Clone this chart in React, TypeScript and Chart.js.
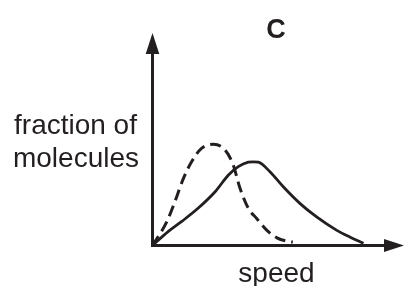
import React, { useEffect, useRef } from "react";
import { Chart, registerables } from "chart.js";

Chart.register(...registerables);

// Speed (x) in arbitrary units, fraction of molecules (y) in arbitrary units
const dashedX = [0, 5.7, 8.9, 12.3, 15.6, 19.6, 24.2, 28.8, 32.1, 34.8, 38.1, 41.5, 45.5, 49.5, 53.5, 55.8];
const dashedY = [0, 11.2, 20.6, 31.6, 39.5, 45.8, 47.6, 45.0, 37.9, 26.9, 17.5, 12.6, 7.1, 3.6, 2.0, 1.6];
const solidX = [0, 6.2, 11.5, 18.1, 24.9, 30.2, 34.1, 38.1, 40.0, 42.1, 46.8, 52.1, 58.7, 65.4, 73.3, 78.6, 83.9];
const solidY = [0, 6.5, 11.2, 17.5, 25.3, 33.2, 37.1, 39.2, 39.4, 39.2, 34.6, 27.5, 19.7, 13.3, 7.1, 3.9, 1.1];

const titleText = "C";
const xLabel = "speed";
const yLabelLines = ["fraction of", "molecules"];

const INK = "#231f20";
const FONT = "'Liberation Sans', Arial, sans-serif";

const toPoints = (xs: number[], ys: number[]) => xs.map((x, i) => ({ x, y: ys[i] }));

const axesPlugin = {
  id: "axesAndLabels",
  beforeDatasetsDraw(chart: any) {
    const ctx = chart.ctx;
    const xs = chart.scales.x;
    const ys = chart.scales.y;
    const ox = xs.getPixelForValue(0);
    const oy = ys.getPixelForValue(0);
    const top = chart.chartArea.top;
    const right = chart.chartArea.right;
    ctx.save();
    ctx.strokeStyle = INK;
    ctx.fillStyle = INK;
    ctx.lineWidth = 3;
    ctx.lineCap = "butt";
    ctx.beginPath();
    ctx.moveTo(ox, oy + 1.5);
    ctx.lineTo(ox, top + 18);
    ctx.moveTo(ox - 1.5, oy);
    ctx.lineTo(right - 17, oy);
    ctx.stroke();
    // y arrow
    ctx.beginPath();
    ctx.moveTo(ox, top);
    ctx.lineTo(ox + 6.8, top + 21);
    ctx.lineTo(ox - 6.8, top + 21);
    ctx.closePath();
    ctx.fill();
    // x arrow
    ctx.beginPath();
    ctx.moveTo(right, oy);
    ctx.lineTo(right - 20, oy - 6.5);
    ctx.lineTo(right - 20, oy + 6.5);
    ctx.closePath();
    ctx.fill();
    ctx.restore();
  },
  afterDraw(chart: any) {
    const ctx = chart.ctx;
    ctx.save();
    ctx.fillStyle = INK;
    ctx.textAlign = "center";
    ctx.textBaseline = "alphabetic";
    ctx.font = `bold 27px ${FONT}`;
    ctx.fillText(titleText, 276, 37.5);
    ctx.font = `28px ${FONT}`;
    ctx.fillText(xLabel, 276.5, 282);
    ctx.fillText(yLabelLines[0], 75.5, 133.5);
    ctx.fillText(yLabelLines[1], 76, 166.5);
    ctx.restore();
  },
};

export default function App() {
  const ref = useRef<HTMLCanvasElement | null>(null);
  useEffect(() => {
    document.body.style.margin = "0";
    if (!ref.current) return;
    const chart = new Chart(ref.current, {
      type: "scatter",
      data: {
        datasets: [
          {
            label: "dashed",
            data: toPoints(dashedX, dashedY),
            showLine: true,
            borderColor: INK,
            borderWidth: 3,
            borderDash: [11, 6],
            pointRadius: 0,
            cubicInterpolationMode: "monotone",
            fill: false,
          },
          {
            label: "solid",
            data: toPoints(solidX, solidY),
            showLine: true,
            borderColor: INK,
            borderWidth: 2.8,
            pointRadius: 0,
            cubicInterpolationMode: "monotone",
            fill: false,
          },
        ],
      },
      options: {
        animation: false,
        responsive: false,
        layout: { padding: { left: 152.5, right: 0, top: 33, bottom: 40.5 } },
        plugins: { legend: { display: false }, tooltip: { enabled: false }, title: { display: false } },
        scales: {
          x: { type: "linear", min: 0, max: 100, display: false },
          y: { type: "linear", min: 0, max: 100, display: false },
        },
      },
      plugins: [axesPlugin],
    } as any);
    return () => chart.destroy();
  }, []);
  return (
    <div style={{ position: "absolute", left: 0, top: 0, width: 404, height: 286, background: "#fff" }}>
      <canvas ref={ref} width={404} height={286} />
    </div>
  );
}
